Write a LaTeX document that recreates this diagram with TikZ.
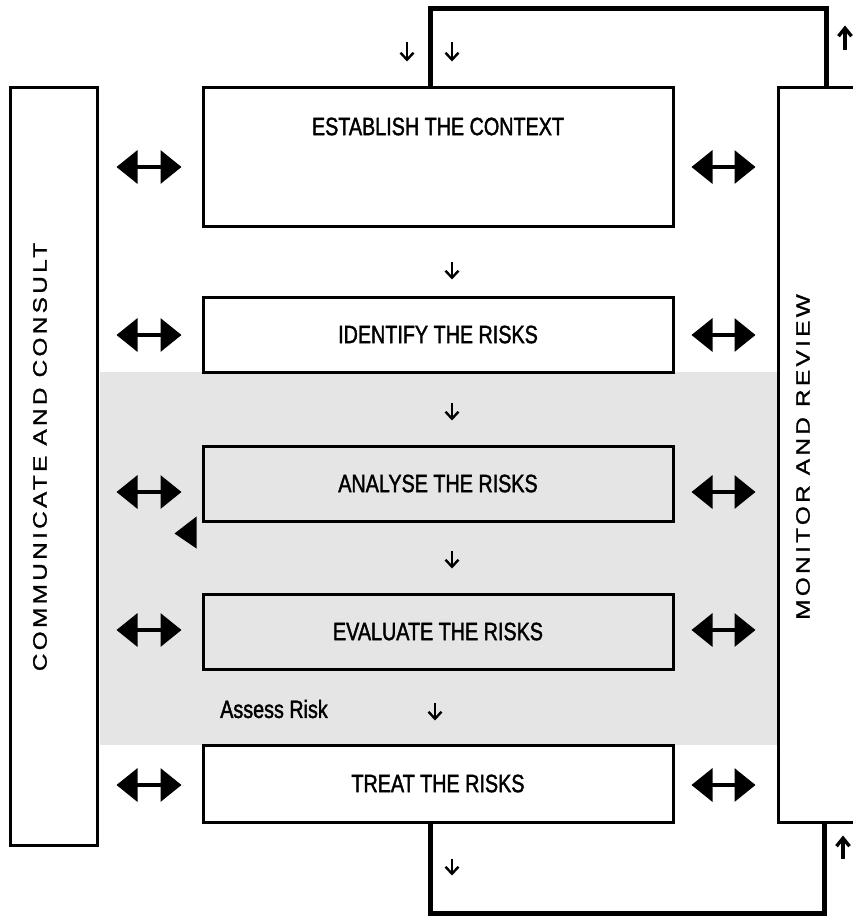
\documentclass[tikz,border=0pt]{standalone}
\usepackage{fontspec}
\setmainfont{Liberation Sans}
\newfontfamily\boxfont[FakeStretch=0.79,FakeBold=1.6]{Liberation Sans}
\newfontfamily\sidefont[FakeStretch=1.25,LetterSpace=17,FakeBold=1.2]{Liberation Sans}
\usetikzlibrary{arrows.meta}
\tikzset{
  procbox/.style={draw, line width=3pt, minimum width=470pt, inner sep=0pt},
  sidebox/.style={draw, line width=3pt, fill=white, inner sep=0pt},
  boxtext/.style={font=\boxfont\fontsize{25}{29}\selectfont},
  sidetext/.style={font=\sidefont\fontsize{19.5}{22}\selectfont, rotate=90},
  dbl/.style={{Triangle[length=21pt,width=33pt]}-{Triangle[length=21pt,width=33pt]}, line width=3.5pt},
  flow/.style={-{Straight Barb[length=7pt,width=13pt]}, line width=2.4pt},
  backflow/.style={-{Straight Barb[length=8pt,width=13pt]}, line width=3.4pt},
  loopline/.style={line width=5pt}
}
\begin{document}
\begin{tikzpicture}[x=1pt,y=-1pt]
\useasboundingbox (0,0) rectangle (852,918);
\fill[gray!20] (100,372) rectangle (778,745);
\node (comm) [sidebox, minimum width=87pt, minimum height=758pt] at (53.5,466) {};
\node (monitor) [sidebox, minimum width=124pt, minimum height=735pt] at (840,454.5) {};
\node (commtext) [sidetext] at (40,457) {COMMUNICATE AND CONSULT};
\node (montext) [sidetext] at (803,457) {MONITOR AND REVIEW};

\node (ctx) [procbox, minimum height=139pt, fill=white] at (438,156.5) {};
\node (ctxtext) [boxtext] at ([yshift=-41pt]ctx.north) {ESTABLISH THE CONTEXT};
\node (ident) [procbox, minimum height=75pt, fill=white, boxtext] at (438,334.5) {IDENTIFY THE RISKS};
\node (analyse) [procbox, minimum height=75pt, boxtext] at (438,483.5) {ANALYSE THE RISKS};
\node (evaluate) [procbox, minimum height=75pt, boxtext] at (438,631.5) {EVALUATE THE RISKS};
\node (treat) [procbox, minimum height=77pt, fill=white, boxtext] at (438,783.5) {TREAT THE RISKS};
\node (assess) [boxtext] at (274,709) {Assess Risk};

\draw[loopline] ([xshift=-8pt]ctx.north) -- ++(0,-77) -| ([xshift=-14pt]monitor.north);
\draw[loopline] ([xshift=-8pt]treat.south) -- ++(0,90) -| ([xshift=-16pt]monitor.south);

\draw[dbl, shorten <=18pt, shorten >=20pt] (comm.east |- 0,167) -- (ctx.west |- 0,167);
\draw[dbl, shorten <=18pt, shorten >=20pt] (comm.east |- 0,335) -- (ident.west |- 0,335);
\draw[dbl, shorten <=18pt, shorten >=20pt] (comm.east |- 0,492) -- (analyse.west |- 0,492);
\draw[dbl, shorten <=18pt, shorten >=20pt] (comm.east |- 0,630) -- (evaluate.west |- 0,630);
\draw[dbl, shorten <=18pt, shorten >=20pt] (comm.east |- 0,785) -- (treat.west |- 0,785);
\draw[dbl, shorten <=17pt, shorten >=21pt] (ctx.east |- 0,167) -- (monitor.west |- 0,167);
\draw[dbl, shorten <=17pt, shorten >=21pt] (ident.east |- 0,335) -- (monitor.west |- 0,335);
\draw[dbl, shorten <=17pt, shorten >=21pt] (analyse.east |- 0,492) -- (monitor.west |- 0,492);
\draw[dbl, shorten <=17pt, shorten >=21pt] (evaluate.east |- 0,630) -- (monitor.west |- 0,630);
\draw[dbl, shorten <=17pt, shorten >=21pt] (treat.east |- 0,785) -- (monitor.west |- 0,785);

\draw[flow] ([xshift=-31pt]ctx.north) ++(0,-44) -- ++(0,20);
\draw[flow] ([xshift=14pt]ctx.north) ++(0,-44) -- ++(0,20);
\draw[flow] ([xshift=14pt]ctx.south) ++(0,34) -- ++(0,18);
\draw[flow] ([xshift=14pt]ident.south) ++(0,29) -- ++(0,18);
\draw[flow] ([xshift=14pt]analyse.south) ++(0,28) -- ++(0,18);
\draw[flow] ([xshift=-3pt]evaluate.south) ++(0,32) -- ++(0,18);
\draw[flow] ([xshift=14pt]treat.south) ++(0,35) -- ++(0,17);
\draw[backflow] ([xshift=5pt]monitor.north) ++(0,-36) -- ++(0,-24);
\draw[backflow] ([xshift=3pt]monitor.south) ++(0,35) -- ++(0,-23);

\fill ([xshift=-27pt,yshift=-11pt]analyse.south west) -- ([xshift=-5pt,yshift=6pt]analyse.south west)
  -- ([xshift=-5pt,yshift=-26pt]analyse.south west) -- cycle;
\end{tikzpicture}
\end{document}
